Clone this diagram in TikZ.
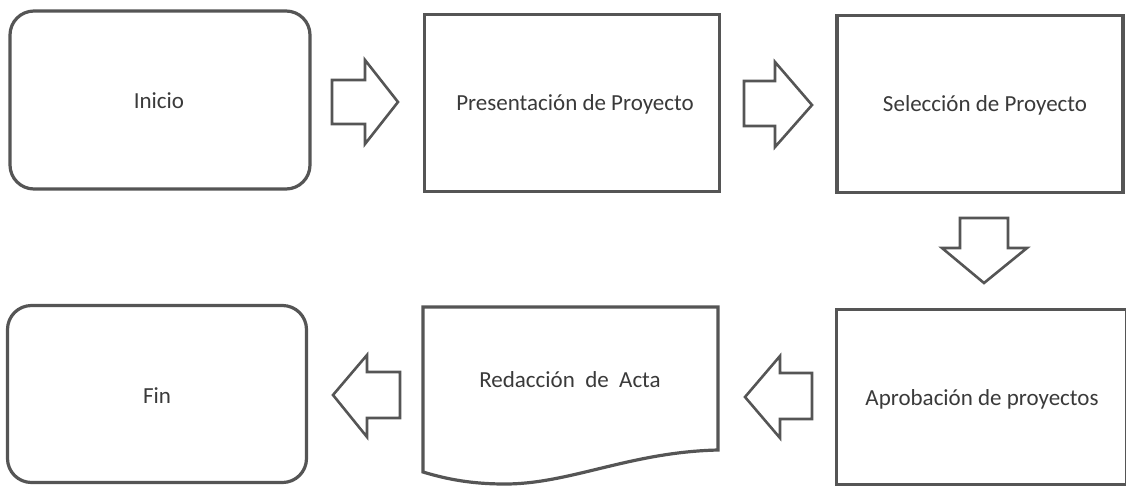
\documentclass[tikz,border=0pt]{standalone}
\usepackage{fontspec}
\setmainfont{Carlito}
\definecolor{edge}{HTML}{555555}
\definecolor{txt}{HTML}{3A3A3A}
\begin{document}
\begin{tikzpicture}[x=1pt,y=-1pt,
  lbl/.style={text=txt,font=\fontsize{23}{27}\selectfont,inner sep=0pt},
  box/.style={draw=edge,line width=3.2pt,fill=white,inner sep=0pt,lbl},
  rbox/.style={box,rounded corners=24pt},
  blockarrow/.style={draw=edge,line width=2.6pt,fill=white,line join=miter}]
\useasboundingbox (0,0) rectangle (1126,485);
% boxes
\node[rbox,minimum width=300pt,minimum height=178pt] (inicio) at (160,100) {};
\node[lbl] (iniciotxt) at (159,101) {Inicio};
\node[box,minimum width=295pt,minimum height=177pt] (pres) at (572,103) {};
\node[lbl] (prestxt) at (575,104) {Presentación de Proyecto};
\node[box,minimum width=286pt,minimum height=177pt] (sel) at (980,104) {};
\node[lbl] (seltxt) at (985,105) {Selección de Proyecto};
\node[box,minimum width=290pt,minimum height=175pt,anchor=north west] (apro) at (835,308) {};
\node[lbl] (aprotxt) at (982,399) {Aprobación de proyectos};
\node[rbox,minimum width=299pt,minimum height=177pt] (fin) at (157,394) {};
\node[lbl] (fintxt) at (157,396) {Fin};
% document shape
\coordinate (rtl) at (423,307);
\coordinate (rtr) at (718,307);
\coordinate (rbr) at (718,450);
\coordinate (rbl) at (423,472);
\draw[draw=edge,line width=3.2pt,fill=white,line join=miter]
  (rbl) -- (rtl) -- (rtr) -- (rbr)
  .. controls (630,452) and (570,484) .. (505,484)
  .. controls (465,484) and (440,477) .. (rbl) -- cycle;
\node[lbl] (redac) at (570,380) {Redacción\ \ de\ \ Acta};
% block arrows
\draw[blockarrow] (332,80) -- (365,80) -- (365,60) -- (398,102) -- (365,144) -- (365,124) -- (332,124) -- cycle;
\draw[blockarrow] (744,81) -- (775,81) -- (775,62) -- (812,105) -- (775,147) -- (775,126) -- (744,126) -- cycle;
\draw[blockarrow] (960,218) -- (1008,218) -- (1008,248) -- (1027,248) -- (984,283) -- (942,248) -- (960,248) -- cycle;
\draw[blockarrow] (812,373) -- (780,373) -- (780,356) -- (745,397) -- (780,438) -- (780,419) -- (812,419) -- cycle;
\draw[blockarrow] (400,372) -- (367,372) -- (367,355) -- (333,395) -- (367,437) -- (367,418) -- (400,418) -- cycle;
\end{tikzpicture}
\end{document}
